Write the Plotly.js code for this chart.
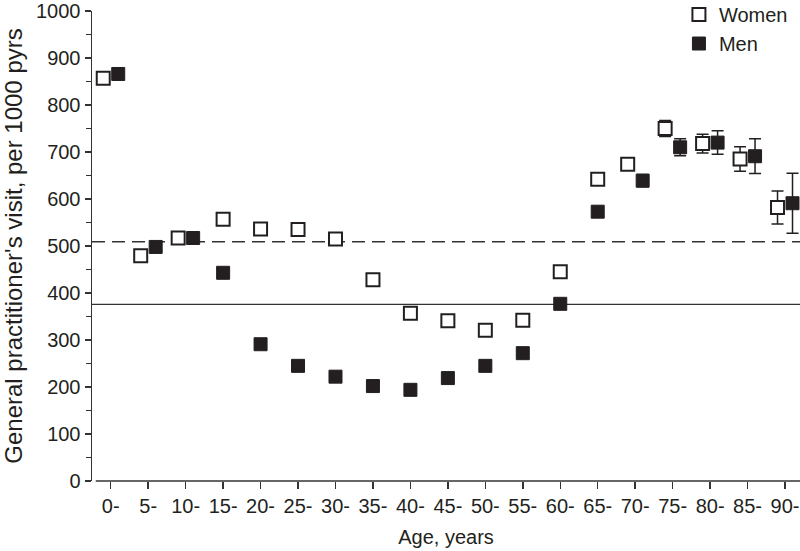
<!DOCTYPE html>
<html>
<head>
<meta charset="utf-8">
<script src="https://cdn.plot.ly/plotly-3.0.1.min.js"></script>
<style>html,body{margin:0;padding:0;background:#fff;}#chart{width:800px;height:551px;}</style>
</head>
<body>
<div id="chart"></div>
<script>
const ageGroups = ["0-","5-","10-","15-","20-","25-","30-","35-","40-","45-","50-","55-","60-","65-","70-","75-","80-","85-","90-"];
const women    = [857, 479, 517, 557, 536, 535, 515, 428, 357, 341, 321, 342, 445, 642, 674, 750, 718, 685, 582];
const womenErr = [5, 4, 4, 4, 4, 4, 4, 4, 4, 4, 4, 4, 6, 8, 12, 17, 20, 26, 35];
const men      = [866, 498, 517, 443, 291, 245, 222, 202, 194, 219, 245, 272, 377, 573, 639, 710, 720, 691, 591];
const menErr   = [5, 4, 4, 4, 4, 4, 4, 4, 4, 4, 4, 4, 6, 9, 13, 18, 25, 37, 64];
const refWomen = 509;
const refMen = 376;

const ink = '#231f20';
const idx = ageGroups.map((_, i) => i);
// dodge overlapping pairs
const dodge = idx.map(i => Math.abs(women[i] - men[i]) < 50 ? 0.2 : 0);
const xW = idx.map(i => i - dodge[i]);
const xM = idx.map(i => i + dodge[i]);

const traces = [
  {
    x: xW, y: women, type: 'scatter', mode: 'markers', name: 'Women',
    error_y: {type: 'data', array: womenErr, visible: true, color: ink, thickness: 1.5, width: 6},
    marker: {symbol: 'square', size: 13, color: '#ffffff', line: {color: ink, width: 2}},
    legendgroup: 'w'
  },
  {
    x: xM, y: men, type: 'scatter', mode: 'markers', name: 'Men',
    error_y: {type: 'data', array: menErr, visible: true, color: ink, thickness: 1.5, width: 6},
    marker: {symbol: 'square', size: 13, color: ink, line: {color: ink, width: 1}},
    legendgroup: 'm'
  }
];

const layout = {
  width: 800, height: 551,
  margin: {l: 92, r: 0, t: 11, b: 70, autoexpand: false},
  paper_bgcolor: '#ffffff', plot_bgcolor: '#ffffff',
  font: {family: 'Liberation Sans, Arial, sans-serif', size: 20, color: ink},
  showlegend: true,
  legend: {x: 0.829, xanchor: 'left', y: 1.034, yanchor: 'top', bgcolor: 'rgba(0,0,0,0)',
           font: {size: 20, color: ink}, tracegroupgap: 0, traceorder: 'grouped',
           borderwidth: 0},
  xaxis: {
    range: [-0.5, 18.4], tickmode: 'array', tickvals: idx, ticktext: ageGroups,
    showgrid: false, zeroline: false, showline: false,
    ticks: 'outside', ticklen: 7, tickwidth: 1.5, tickcolor: '#333',
    tickfont: {size: 20, color: ink},
    title: {text: 'Age, years', font: {size: 20, color: ink}, standoff: 13}
  },
  yaxis: {
    range: [0, 1000], tickmode: 'linear', tick0: 0, dtick: 100,
    showgrid: false, zeroline: false, showline: true, linecolor: '#333', linewidth: 1.5,
    ticks: 'outside', ticklen: 6, tickwidth: 1.5, tickcolor: '#333',
    minor: {dtick: 50, ticks: 'outside', ticklen: 5, tickwidth: 1.5, tickcolor: '#333', showgrid: false},
    tickfont: {size: 20, color: ink},
    title: {text: "General practitioner's visit, per 1000 pyrs", font: {size: 24, color: ink}, standoff: 8}
  },
  shapes: [
    {type: 'line', xref: 'x', x0: -0.4, x1: 18.4, yref: 'paper', y0: 0, y1: 0,
     line: {color: '#333', width: 1.5}, layer: 'above'},
    {type: 'line', xref: 'paper', x0: 0, x1: 1, yref: 'y', y0: refWomen, y1: refWomen,
     line: {color: '#333', width: 1.3, dash: '13px,7px'}, layer: 'below'},
    {type: 'line', xref: 'paper', x0: 0, x1: 1, yref: 'y', y0: refMen, y1: refMen,
     line: {color: '#333', width: 1.3}, layer: 'below'}
  ]
};

Plotly.newPlot('chart', traces, layout, {displayModeBar: false, staticPlot: true});
</script>
</body>
</html>
